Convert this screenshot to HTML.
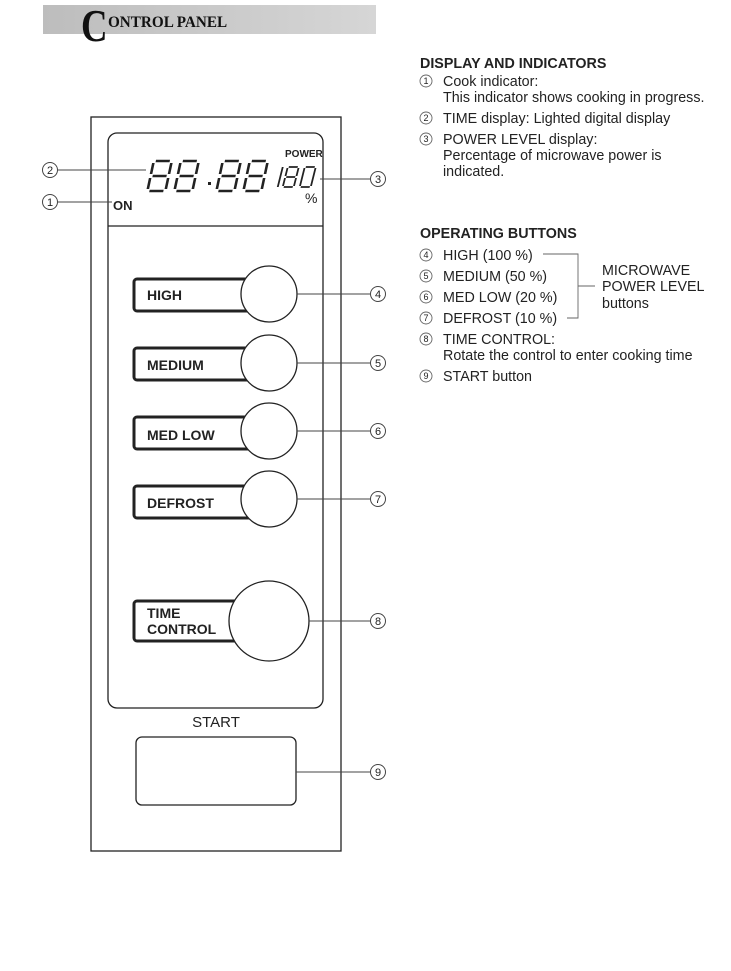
<!DOCTYPE html>
<html><head><meta charset="utf-8"><style>
html,body{margin:0;padding:0;background:#fff;}
svg{display:block;}
text{font-family:"Liberation Sans",Arial,sans-serif;fill:#222;}
</style></head><body>
<svg width="731" height="971" viewBox="0 0 731 971" xmlns="http://www.w3.org/2000/svg">
<defs>
<linearGradient id="hg" x1="0" x2="1" y1="0" y2="0">
<stop offset="0" stop-color="#bdbdbd"/><stop offset="1" stop-color="#d6d6d6"/>
</linearGradient>
<g id="d8" fill="none" stroke="#222" stroke-width="2.6" stroke-linecap="butt">
<line x1="3" y1="1" x2="17" y2="1"/>
<line x1="3" y1="16" x2="17" y2="16"/>
<line x1="3" y1="31" x2="17" y2="31"/>
<line x1="1" y1="3" x2="1" y2="14"/>
<line x1="19" y1="3" x2="19" y2="14"/>
<line x1="1" y1="18" x2="1" y2="29"/>
<line x1="19" y1="18" x2="19" y2="29"/>
</g>
<g id="s8" fill="none" stroke="#222" stroke-width="1.8">
<line x1="2" y1="1" x2="11" y2="1"/>
<line x1="2" y1="11" x2="11" y2="11"/>
<line x1="2" y1="21" x2="11" y2="21"/>
<line x1="1" y1="2" x2="1" y2="10"/>
<line x1="12" y1="2" x2="12" y2="10"/>
<line x1="1" y1="12" x2="1" y2="20"/>
<line x1="12" y1="12" x2="12" y2="20"/>
</g>
</defs>
<!-- header -->
<rect x="43" y="5" width="333" height="29" fill="url(#hg)"/>
<text x="81" y="41" font-size="46" font-weight="bold" style="font-family:'Liberation Serif',serif;fill:#111" transform="translate(81,0) scale(0.8,1) translate(-81,0)">C</text>
<text x="108" y="27" font-size="16" font-weight="bold" style="font-family:'Liberation Serif',serif;fill:#111" transform="translate(108,0) scale(0.95,1) translate(-108,0)">ONTROL PANEL</text>

<!-- panel -->
<rect x="91" y="117" width="250" height="734" fill="none" stroke="#222" stroke-width="1.3"/>
<rect x="108" y="133" width="215" height="575" rx="9" fill="none" stroke="#222" stroke-width="1.3"/>
<line x1="108" y1="226" x2="323" y2="226" stroke="#222" stroke-width="1.3"/>

<!-- display -->
<g transform="translate(153,160) skewX(-12)"><use href="#d8"/></g>
<g transform="translate(180,160) skewX(-12)"><use href="#d8"/></g>
<rect x="208" y="182" width="3" height="3" fill="#222"/>
<g transform="translate(222,160) skewX(-12)"><use href="#d8"/></g>
<g transform="translate(249,160) skewX(-12)"><use href="#d8"/></g>
<text x="285" y="157" font-size="10" font-weight="bold">POWER</text>
<g transform="translate(282,166) skewX(-14)" fill="none" stroke="#222" stroke-width="1.8">
<line x1="1" y1="1" x2="1" y2="21"/>
</g>
<g transform="translate(287,166) skewX(-14)"><use href="#s8"/></g>
<g transform="translate(304,166) skewX(-14)" fill="none" stroke="#222" stroke-width="1.8">
<line x1="2" y1="1" x2="11" y2="1"/>
<line x1="2" y1="21" x2="11" y2="21"/>
<line x1="1" y1="2" x2="1" y2="20"/>
<line x1="12" y1="2" x2="12" y2="20"/>
</g>
<text x="305" y="203" font-size="14">%</text>
<text x="113" y="210" font-size="13" font-weight="bold">ON</text>

<!-- buttons -->
<g fill="#fff" stroke="#222">
<rect x="134" y="279" width="120" height="32" rx="3" stroke-width="3"/>
<circle cx="269" cy="294" r="28" stroke-width="1.3"/>
<rect x="134" y="348" width="120" height="32" rx="3" stroke-width="3"/>
<circle cx="269" cy="363" r="28" stroke-width="1.3"/>
<rect x="134" y="417" width="120" height="32" rx="3" stroke-width="3"/>
<circle cx="269" cy="431" r="28" stroke-width="1.3"/>
<rect x="134" y="486" width="120" height="32" rx="3" stroke-width="3"/>
<circle cx="269" cy="499" r="28" stroke-width="1.3"/>
<rect x="134" y="601" width="110" height="40" rx="3" stroke-width="3"/>
<circle cx="269" cy="621" r="40" stroke-width="1.3"/>
<rect x="136" y="737" width="160" height="68" rx="6" stroke-width="1.3"/>
</g>
<g font-size="14" font-weight="bold">
<text x="147" y="300">HIGH</text>
<text x="147" y="370">MEDIUM</text>
<text x="147" y="440">MED LOW</text>
<text x="147" y="508">DEFROST</text>
<text x="147" y="618">TIME</text>
<text x="147" y="634">CONTROL</text>
</g>
<text x="216" y="727" font-size="15" text-anchor="middle">START</text>

<!-- callouts -->
<g stroke="#444" stroke-width="1" fill="none">
<line x1="58" y1="170" x2="146" y2="170"/>
<line x1="58" y1="202" x2="112" y2="202"/>
<line x1="320" y1="179" x2="370" y2="179"/>
<line x1="297" y1="294" x2="370" y2="294"/>
<line x1="297" y1="363" x2="370" y2="363"/>
<line x1="297" y1="431" x2="370" y2="431"/>
<line x1="297" y1="499" x2="370" y2="499"/>
<line x1="309" y1="621" x2="370" y2="621"/>
<line x1="296" y1="772" x2="370" y2="772"/>
<circle cx="50" cy="170" r="7.5"/><circle cx="50" cy="202" r="7.5"/>
<circle cx="378" cy="179" r="7.5"/><circle cx="378" cy="294" r="7.5"/>
<circle cx="378" cy="363" r="7.5"/><circle cx="378" cy="431" r="7.5"/>
<circle cx="378" cy="499" r="7.5"/><circle cx="378" cy="621" r="7.5"/>
<circle cx="378" cy="772" r="7.5"/>
</g>
<g font-size="11" text-anchor="middle">
<text x="50" y="174">2</text><text x="50" y="206">1</text>
<text x="378" y="183">3</text><text x="378" y="298">4</text>
<text x="378" y="367">5</text><text x="378" y="435">6</text>
<text x="378" y="503">7</text><text x="378" y="625">8</text>
<text x="378" y="776">9</text>
</g>

<!-- right text -->
<g font-size="14.3">
<text x="420" y="68" font-weight="bold">DISPLAY AND INDICATORS</text>
<text x="443" y="86">Cook indicator:</text>
<text x="443" y="102">This indicator shows cooking in progress.</text>
<text x="443" y="123">TIME display: Lighted digital display</text>
<text x="443" y="144">POWER LEVEL display:</text>
<text x="443" y="160">Percentage of microwave power is</text>
<text x="443" y="176">indicated.</text>
<text x="420" y="238" font-weight="bold">OPERATING BUTTONS</text>
<text x="443" y="260">HIGH (100 %)</text>
<text x="443" y="281">MEDIUM (50 %)</text>
<text x="443" y="302">MED LOW (20 %)</text>
<text x="443" y="323">DEFROST (10 %)</text>
<text x="443" y="344">TIME CONTROL:</text>
<text x="443" y="360">Rotate the control to enter cooking time</text>
<text x="443" y="381">START button</text>
<text x="602" y="275">MICROWAVE</text>
<text x="602" y="291">POWER LEVEL</text>
<text x="602" y="308">buttons</text>
</g>
<g stroke="#666" stroke-width="0.9" fill="none">
<circle cx="426" cy="81" r="6"/><circle cx="426" cy="118" r="6"/><circle cx="426" cy="139" r="6"/>
<circle cx="426" cy="255" r="6"/><circle cx="426" cy="276" r="6"/><circle cx="426" cy="297" r="6"/>
<circle cx="426" cy="318" r="6"/><circle cx="426" cy="339" r="6"/><circle cx="426" cy="376" r="6"/>
<polyline points="543,254 578,254 578,318 567,318"/>
<line x1="578" y1="286" x2="595" y2="286"/>
</g>
<g font-size="9" text-anchor="middle" style="fill:#555">
<text x="426" y="84">1</text><text x="426" y="121">2</text><text x="426" y="142">3</text>
<text x="426" y="258">4</text><text x="426" y="279">5</text><text x="426" y="300">6</text>
<text x="426" y="321">7</text><text x="426" y="342">8</text><text x="426" y="379">9</text>
</g>
</svg>
</body></html>
